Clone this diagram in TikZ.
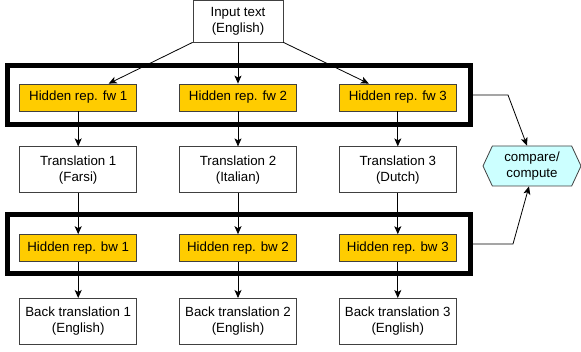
\documentclass[tikz,border=0pt]{standalone}
\usepackage{fontspec}
\setmainfont{Liberation Sans}
\usetikzlibrary{arrows.meta, positioning, shapes.symbols}
\definecolor{repyellow}{RGB}{255, 204, 0}
\definecolor{paleaqua}{RGB}{204, 255, 255}
\definecolor{edgegray}{RGB}{64, 64, 64}
\tikzset{
  >=Stealth,
  flowarrow/.style={-{Stealth[length=8pt, width=7pt, inset=2pt]}, line width=0.8pt, black},
  textbox/.style={draw=edgegray, line width=0.8pt, fill=white, align=center, inner sep=2pt,
    minimum width=117pt, minimum height=46pt, font=\fontsize{13.3}{16}\selectfont},
  hiddenbox/.style={draw=edgegray, line width=0.8pt, fill=repyellow, inner sep=2pt,
    minimum width=117pt, minimum height=27pt, font=\fontsize{13.3}{16}\selectfont},
  groupframe/.style={draw=black, line width=5pt, minimum width=463pt, minimum height=59pt},
  computebox/.style={draw=edgegray, line width=0.8pt, fill=paleaqua, align=center, inner sep=1pt,
    signal, signal to=east and west, signal pointer angle=130,
    minimum width=98pt, minimum height=40pt, font=\fontsize{13.3}{16}\selectfont}
}

\begin{document}
\begin{tikzpicture}[x=1pt, y=1pt]
    \useasboundingbox (0,0) rectangle (581,351);

    % source text
    \node (input) [textbox, minimum width=90pt, minimum height=42pt] at (238,330) {Input text\\(English)};

    % forward pass
    \node (fw2) [hiddenbox] at (238,253.5) {Hidden rep. fw 2};
    \node (fw1) [hiddenbox, left=42pt of fw2] {Hidden rep. fw 1};
    \node (fw3) [hiddenbox, right=42pt of fw2] {Hidden rep. fw 3};
    \node (fwgroup) [groupframe] at (239,256) {};

    % translations
    \node (tr1) [textbox, below=35pt of fw1] {Translation 1\\(Farsi)};
    \node (tr2) [textbox, below=35pt of fw2] {Translation 2\\(Italian)};
    \node (tr3) [textbox, below=35pt of fw3] {Translation 3\\(Dutch)};

    % backward pass
    \node (bw1) [hiddenbox, below=41pt of tr1] {Hidden rep. bw 1};
    \node (bw2) [hiddenbox, below=41pt of tr2] {Hidden rep. bw 2};
    \node (bw3) [hiddenbox, below=41pt of tr3] {Hidden rep. bw 3};
    \node (bwgroup) [groupframe] at (239,107) {};

    % back translations
    \node (bt1) [textbox, below=36pt of bw1] {Back translation 1\\(English)};
    \node (bt2) [textbox, below=36pt of bw2] {Back translation 2\\(English)};
    \node (bt3) [textbox, below=36pt of bw3] {Back translation 3\\(English)};

    \node (cmp) [computebox] at (532,185) {compare/\\compute};

    \draw[flowarrow] (input.south west) -- ([xshift=30.5pt]fw1.north);
    \draw[flowarrow] (input) -- (fw2);
    \draw[flowarrow] (input.south east) -- ([xshift=-29pt]fw3.north);

    \draw[flowarrow] (fw1) -- (tr1);
    \draw[flowarrow] (fw2) -- (tr2);
    \draw[flowarrow] (fw3) -- (tr3);
    \draw[flowarrow] (tr1) -- (bw1);
    \draw[flowarrow] (tr2) -- (bw2);
    \draw[flowarrow] (tr3) -- (bw3);
    \draw[flowarrow] (bw1) -- (bt1);
    \draw[flowarrow] (bw2) -- (bt2);
    \draw[flowarrow] (bw3) -- (bt3);

    \draw[flowarrow] (fwgroup.east) -- ++(35,0) -- ([xshift=-5pt]cmp.north);
    \draw[flowarrow] (bwgroup.east) -- ++(40,0) -- ([xshift=-3pt]cmp.south);
\end{tikzpicture}
\end{document}
